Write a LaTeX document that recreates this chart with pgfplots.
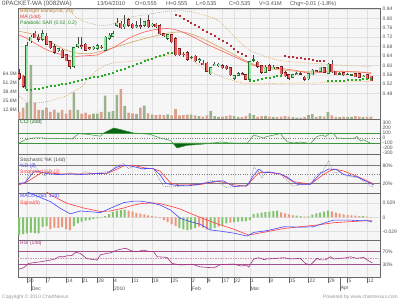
\documentclass[border=0pt]{standalone}
\usepackage{pgfplots}
\pgfplotsset{compat=1.18}
\usepackage{pgfplotstable}
\usepackage{fontspec}
\setmainfont{Liberation Sans}
\definecolor{panelbg}{RGB}{246,246,246}
\definecolor{gridc}{RGB}{224,224,224}
\definecolor{bordc}{RGB}{105,105,105}
\definecolor{upfill}{RGB}{150,232,160}
\definecolor{upedge}{RGB}{40,110,50}
\definecolor{dnfill}{RGB}{236,96,96}
\definecolor{dnedge}{RGB}{120,30,30}
\definecolor{wickc}{RGB}{70,70,70}
\definecolor{volup}{RGB}{155,178,140}
\definecolor{voldn}{RGB}{218,162,142}
\definecolor{bbc}{RGB}{214,164,96}
\definecolor{mac}{RGB}{255,95,95}
\definecolor{sarg}{RGB}{40,170,40}
\definecolor{sarr}{RGB}{185,45,55}
\definecolor{ccic}{RGB}{60,150,60}
\definecolor{ccifill}{RGB}{10,100,20}
\definecolor{stk}{RGB}{120,120,120}
\definecolor{blu}{RGB}{70,70,255}
\definecolor{rd}{RGB}{255,60,60}
\definecolor{hup}{RGB}{130,195,110}
\definecolor{hdn}{RGB}{236,150,125}
\definecolor{rsic}{RGB}{165,50,130}
\definecolor{rsil}{RGB}{160,80,140}
\definecolor{rsid}{RGB}{205,150,190}
\definecolor{txtg}{RGB}{80,80,80}
\definecolor{cpy}{RGB}{150,150,150}
\definecolor{legbb}{RGB}{190,130,50}
\definecolor{legma}{RGB}{230,50,50}
\definecolor{legsar}{RGB}{40,140,40}
\newcommand{\fs}{\fontsize{5}{6}\selectfont}
\newcommand{\ft}{\fontsize{5.6}{6.6}\selectfont}

\pgfplotstableread{
i o h l c v
0 0.565 0.585 0.540 0.545 10
1 0.555 0.560 0.505 0.510 16
2 0.500 0.700 0.490 0.685 23
3 0.705 0.730 0.695 0.720 76
4 0.738 0.745 0.715 0.718 23
5 0.720 0.735 0.700 0.710 12.7
6 0.710 0.750 0.705 0.735 12.3
7 0.725 0.740 0.685 0.690 16
8 0.700 0.705 0.670 0.675 10
9 0.680 0.690 0.650 0.655 13
10 0.662 0.675 0.655 0.670 9
11 0.665 0.670 0.630 0.635 12.7
12 0.645 0.650 0.618 0.620 7.5
13 0.620 0.625 0.585 0.595 12.7
14 0.595 0.680 0.590 0.675 37.5
15 0.680 0.720 0.675 0.690 12.7
16 0.685 0.720 0.670 0.680 7.5
17 0.690 0.695 0.660 0.665 9
18 0.675 0.680 0.665 0.670 6
19 0.670 0.682 0.665 0.678 7.5
20 0.672 0.690 0.665 0.683 7.5
21 0.678 0.685 0.670 0.675 10
22 0.665 0.725 0.660 0.720 33
23 0.715 0.740 0.710 0.728 10
24 0.725 0.745 0.720 0.735 11
25 0.770 0.800 0.765 0.780 34
26 0.780 0.790 0.755 0.760 42
27 0.765 0.815 0.755 0.775 18
28 0.795 0.800 0.765 0.770 9
29 0.775 0.780 0.755 0.760 8
30 0.765 0.790 0.760 0.770 7
31 0.770 0.800 0.755 0.768 16
32 0.770 0.790 0.765 0.785 18.7
33 0.790 0.815 0.760 0.765 8
34 0.770 0.780 0.765 0.775 6
35 0.775 0.780 0.760 0.765 5.5
36 0.770 0.775 0.730 0.735 6
37 0.735 0.740 0.722 0.728 5.5
38 0.715 0.735 0.710 0.730 6.5
39 0.730 0.735 0.695 0.700 5
40 0.715 0.720 0.640 0.645 14
41 0.670 0.675 0.640 0.645 5
42 0.648 0.655 0.635 0.645 5.5
43 0.655 0.660 0.620 0.625 6
44 0.635 0.640 0.628 0.635 6
45 0.640 0.645 0.615 0.620 5
46 0.620 0.630 0.612 0.625 4
47 0.610 0.625 0.600 0.605 3.5
48 0.610 0.615 0.570 0.575 5
49 0.565 0.595 0.560 0.590 11
50 0.600 0.615 0.598 0.605 4
51 0.600 0.610 0.595 0.605 3
52 0.600 0.605 0.585 0.590 3.5
53 0.597 0.600 0.580 0.585 4
54 0.590 0.595 0.555 0.560 5
55 0.545 0.560 0.540 0.557 4
56 0.558 0.570 0.555 0.565 3
57 0.565 0.570 0.558 0.563 2.5
58 0.560 0.565 0.537 0.540 4
59 0.540 0.620 0.535 0.617 8
60 0.625 0.645 0.615 0.625 5.6
61 0.613 0.618 0.590 0.595 3
62 0.600 0.602 0.565 0.570 4
63 0.570 0.600 0.567 0.592 4.5
64 0.600 0.605 0.575 0.580 3.5
65 0.590 0.600 0.585 0.592 3
66 0.590 0.595 0.585 0.588 2.5
67 0.595 0.598 0.560 0.565 3.5
68 0.570 0.575 0.550 0.555 4
69 0.560 0.565 0.540 0.545 3.5
70 0.550 0.565 0.545 0.560 2.5
71 0.563 0.570 0.560 0.566 2
72 0.566 0.570 0.560 0.565 2
73 0.550 0.555 0.535 0.540 3
74 0.543 0.568 0.540 0.565 5.5
75 0.560 0.585 0.558 0.580 7
76 0.578 0.580 0.570 0.575 3
77 0.575 0.595 0.572 0.592 4
78 0.590 0.592 0.568 0.570 3.5
79 0.567 0.610 0.565 0.605 9.8
80 0.605 0.625 0.568 0.572 5
81 0.575 0.578 0.558 0.560 3
82 0.565 0.570 0.560 0.565 2.5
83 0.570 0.573 0.556 0.560 3.5
84 0.562 0.566 0.558 0.563 2.5
85 0.560 0.565 0.555 0.560 3
86 0.565 0.568 0.550 0.552 4
87 0.565 0.567 0.548 0.550 3.5
88 0.553 0.558 0.550 0.555 2.5
89 0.560 0.562 0.543 0.545 3
90 0.555 0.555 0.535 0.535 3.41
}\candles

\pgfplotstableread{
i h g
0 -36 1
1 -34 1
2 -32.5 1
3 -31 1
4 -32 1
5 -32.5 1
6 -20 1
7 -17.6 1
8 -24 0
9 -21 0
10 -22 0
11 -20 0
12 -24 0
13 -26 0
14 -17.6 1
15 -12 1
16 -8.8 1
17 -6.8 1
18 -5.4 1
19 -3.4 1
20 -2 1
21 -0.7 1
22 2.7 1
23 6.8 1
24 10.8 1
25 13.6 1
26 15 1
27 15.6 1
28 13.6 0
29 11.5 0
30 8.8 0
31 7.5 0
32 6.1 0
33 4 0
34 2.7 0
35 1.4 0
36 -1.4 0
37 -5.4 0
38 -9.5 0
39 -13.6 0
40 -17.6 0
41 -22 1
42 -24.4 1
43 -25.8 1
44 -24.4 1
45 -22 1
46 -19 0
47 -21 0
48 -24.4 0
49 -24.4 1
50 -21.7 1
51 -19 0
52 -15.6 1
53 -12.2 1
54 -10.8 0
55 -9.5 1
56 -8.8 1
57 -8.1 1
58 -7.5 1
59 -5.4 1
60 6.8 1
61 8.1 1
62 9.5 1
63 10.8 1
64 11.5 1
65 12.9 1
66 13.6 1
67 10.2 0
68 8.1 0
69 6.1 0
70 4 0
71 3.4 1
72 2.7 1
73 1.4 0
74 2 1
75 5.4 1
76 8.1 1
77 9.5 1
78 11.5 1
79 13.6 1
80 12.2 0
81 9.5 0
82 7.5 0
83 6.1 0
84 4.7 0
85 4 0
86 3.4 0
87 2.7 0
88 2.7 1
89 1.4 0
90 0.7 0
}\macdhist

\pgfplotsset{
  panel/.style={
    scale only axis, width=362bp, anchor=south west,
    xmin=-0.3, xmax=92.3,
    axis line style={bordc, line width=0.6bp},
    xtick={2,7,12,16,20,24,29,34,39,44,48,52,55,59,64,69,74,79,84,89},
    xticklabels={},
    x tick style={draw=none},
    xmajorgrids, major x grid style={gridc, line width=0.4bp},
    ytick pos=right, yticklabel pos=right,
    y tick style={draw=none},
    yticklabel style={font=\fs, text=txtg, inner sep=1bp, xshift=1.5bp},
    axis background/.style={fill=panelbg},
    clip=true,
  },
  ovl/.style={
    scale only axis, width=362bp, anchor=south west,
    xmin=-0.3, xmax=92.3,
    axis line style={draw=none},
    xtick=\empty, ytick=\empty,
    clip=true,
  },
  body/.style={draw=none, mark=none, forget plot, restrict y to domain=0:2,
    error bars/.cd, y dir=both, y explicit, error mark=none},
}

\begin{document}
\begin{tikzpicture}
\useasboundingbox (0,0) rectangle (400bp,300bp);

% ---------------- main panel background
\begin{axis}[panel, at={(18bp,181bp)}, height=111bp, ymin=0.372, ymax=0.8443,
  ytick={0.48,0.52,0.56,0.60,0.64,0.68,0.72,0.76,0.80,0.84},
  yticklabels={0.48,0.52,0.56,0.60,0.64,0.68,0.72,0.76,0.80,0.84},
  ymajorgrids, major y grid style={gridc, line width=0.4bp}]
\end{axis}

% ---------------- volume
\begin{axis}[ovl, at={(18bp,181bp)}, height=111bp, ymin=0, ymax=156,
  ytick={12.8,25.6,38.4,51.2,64.0},
  yticklabels={12.8M,25.6M,38.4M,51.2M,64.0M},
  ytick pos=left, yticklabel pos=left, y tick style={draw=none},
  yticklabel style={font=\fs, text=txtg, inner sep=1bp},
  ybar, bar width=2.6bp, bar shift=0pt]
\addplot[fill=volup, draw=none, restrict y to domain=0:1000]
  table[x=i, y expr={\thisrow{c}>=\thisrow{o} ? \thisrow{v} : -5}] {\candles};
\addplot[fill=voldn, draw=none, restrict y to domain=0:1000]
  table[x=i, y expr={\thisrow{c}<\thisrow{o} ? \thisrow{v} : -5}] {\candles};
\end{axis}

% ---------------- price overlays
\begin{axis}[ovl, at={(18bp,181bp)}, height=111bp, ymin=0.372, ymax=0.8443]
% Bollinger upper
\addplot[bbc, line width=0.6bp, dash pattern=on 0.8bp off 1.2bp, smooth, tension=0.4] coordinates {
(0,1.0)(4,1.0)(8,0.93)(11,0.87)(13,0.83)(15,0.80)(17,0.785)(20,0.772)(23,0.772)(25,0.785)(27,0.80)(30,0.81)(34,0.82)(38,0.83)(42,0.832)(45,0.825)(48,0.81)(50,0.80)(52,0.775)(54,0.74)(57,0.69)(59,0.665)(62,0.644)(66,0.623)(70,0.615)(75,0.609)(83,0.60)(90,0.595)};
% Bollinger lower
\addplot[bbc, line width=0.6bp, dash pattern=on 0.8bp off 1.2bp, smooth, tension=0.4] coordinates {
(0,0.47)(2,0.445)(4,0.44)(7,0.445)(10,0.46)(12,0.47)(14,0.49)(16,0.51)(18,0.55)(20,0.58)(22,0.60)(24,0.61)(27,0.615)(30,0.62)(34,0.63)(38,0.645)(40,0.655)(42,0.65)(44,0.625)(46,0.60)(48,0.58)(50,0.565)(53,0.545)(57,0.525)(60,0.522)(65,0.523)(70,0.525)(75,0.525)(80,0.528)(85,0.53)(90,0.532)};
% Bollinger middle
\addplot[bbc, line width=0.6bp, smooth, tension=0.4] coordinates {
(0,0.745)(3,0.735)(6,0.715)(9,0.69)(12,0.665)(15,0.652)(18,0.65)(21,0.66)(24,0.675)(27,0.69)(30,0.705)(33,0.718)(36,0.73)(39,0.74)(42,0.742)(45,0.728)(48,0.705)(51,0.68)(54,0.655)(57,0.628)(60,0.605)(63,0.59)(66,0.582)(70,0.576)(74,0.573)(78,0.572)(82,0.573)(86,0.572)(90,0.57)};
% MA 14
\addplot[mac, line width=0.6bp, smooth, tension=0.4] coordinates {
(0,0.73)(2,0.715)(4,0.695)(6,0.675)(8,0.66)(10,0.65)(12,0.642)(14,0.638)(16,0.64)(18,0.642)(20,0.645)(22,0.66)(24,0.675)(26,0.695)(28,0.715)(30,0.73)(32,0.742)(34,0.75)(36,0.755)(38,0.757)(40,0.752)(42,0.74)(44,0.725)(46,0.708)(48,0.69)(50,0.675)(52,0.66)(54,0.645)(56,0.63)(58,0.615)(60,0.60)(62,0.595)(65,0.59)(68,0.585)(71,0.578)(73,0.57)(75,0.567)(77,0.57)(79,0.574)(81,0.576)(83,0.575)(85,0.573)(87,0.572)(89,0.568)(90,0.565)};
% Parabolic SAR
\addplot[only marks, mark=square*, mark size=0.5bp, color=sarg] coordinates {
(2,0.495)(3,0.497)(4,0.50)(5,0.503)(6,0.506)(7,0.509)(8,0.512)(9,0.515)(10,0.518)(11,0.521)(12,0.524)(13,0.527)(14,0.530)(15,0.534)(16,0.538)(17,0.542)(18,0.546)(19,0.55)(20,0.554)(21,0.558)(22,0.562)(23,0.566)(24,0.571)(25,0.576)(26,0.582)(27,0.588)(28,0.594)(29,0.600)(30,0.606)(31,0.612)(32,0.618)(33,0.624)(34,0.630)(35,0.636)(36,0.642)(37,0.647)(38,0.652)(39,0.656)
(59,0.535)(60,0.537)(61,0.540)(62,0.543)(63,0.546)(64,0.549)(65,0.552)(66,0.555)(67,0.558)
(79,0.533)(80,0.534)(81,0.535)(82,0.536)(83,0.537)(84,0.538)(85,0.539)(86,0.540)(87,0.541)(88,0.542)(89,0.543)(90,0.544)};
\addplot[only marks, mark=square*, mark size=0.5bp, color=sarr] coordinates {
(40,0.815)(41,0.81)(42,0.80)(43,0.79)(44,0.782)(45,0.773)(46,0.764)(47,0.754)(48,0.745)(49,0.735)(50,0.725)(51,0.715)(52,0.705)(53,0.695)(54,0.683)(55,0.672)(56,0.66)(57,0.65)(58,0.64)
(68,0.640)(69,0.638)(70,0.636)(71,0.634)(72,0.632)(73,0.629)(74,0.627)(75,0.624)(76,0.622)(77,0.620)(78,0.618)};
% wicks
\addplot[body, error bar style={draw=wickc, line width=0.5bp, solid}]
  table[x=i, y expr={(\thisrow{h}+\thisrow{l})/2}, y error expr={(\thisrow{h}-\thisrow{l})/2}] {\candles};
% up bodies
\addplot[body, error bar style={draw=upedge, line width=3bp, solid}]
  table[x=i, y expr={\thisrow{c}>=\thisrow{o} ? (\thisrow{o}+\thisrow{c})/2 : -1}, y error expr={abs(\thisrow{c}-\thisrow{o})/2+0.002}] {\candles};
\addplot[body, error bar style={draw=upfill, line width=2bp, solid}]
  table[x=i, y expr={\thisrow{c}>=\thisrow{o} ? (\thisrow{o}+\thisrow{c})/2 : -1}, y error expr={max(abs(\thisrow{c}-\thisrow{o})/2-0.0005,0)}] {\candles};
% down bodies
\addplot[body, error bar style={draw=dnedge, line width=3bp, solid}]
  table[x=i, y expr={\thisrow{c}<\thisrow{o} ? (\thisrow{o}+\thisrow{c})/2 : -1}, y error expr={abs(\thisrow{c}-\thisrow{o})/2+0.002}] {\candles};
\addplot[body, error bar style={draw=dnfill, line width=2bp, solid}]
  table[x=i, y expr={\thisrow{c}<\thisrow{o} ? (\thisrow{o}+\thisrow{c})/2 : -1}, y error expr={max(abs(\thisrow{c}-\thisrow{o})/2-0.0005,0)}] {\candles};
\end{axis}

% ---------------- CCI
\begin{axis}[panel, at={(18bp,146bp)}, height=35bp, ymin=-320, ymax=380,
  ytick={-300,-200,-100,0,100,200,300},
  yticklabels={-300,-200,-100,0,100,200,300}]
\addplot[fill=ccifill, draw=none] coordinates {(21.6,100)(24.2,200)(25.9,170)(27.5,135)(29.3,100)};
\addplot[fill=ccifill, draw=none] coordinates {(39.3,-100)(40.4,-200)(42.9,-147)(46.3,-127)(49.7,-100)};
\addplot[fill=ccifill, draw=none] coordinates {(54,-100)(54.9,-107)(58.3,-110)(58.4,-100)};
\addplot[ccic, line width=0.6bp] coordinates {(-1,100)(93,100)};
\addplot[ccic, line width=0.6bp] coordinates {(-1,-100)(93,-100)};
\addplot[gray, line width=0.4bp, dotted] coordinates {(-1,0)(93,0)};
\addplot[ccic, line width=0.5bp] coordinates {
(0,-100)(1.6,-34)(3.7,0)(6.2,0)(7.1,-10)(12.2,-10)(13.5,-20)(15.2,86)(17.4,74)(20.8,36)(21.6,100)(24.2,200)(25.9,170)(29.3,100)(31,90)(33.5,73)(36.1,0)(38.7,-50)(40.4,-200)(42.9,-147)(46.3,-127)(49.7,-100)(51.5,-80)(54.9,-107)(58.3,-110)(60,60)(62.5,0)(63.4,30)(66,73)(66.8,90)(68.5,-73)(70.2,-100)(71.9,-80)(74.5,-110)(76.2,30)(77.5,60)(78.3,30)(79.6,100)(80.4,90)(81.3,0)(83.9,-10)(85.6,-10)(86.4,30)(87.3,-60)(88.1,-35)(89.8,-100)};
\end{axis}

% ---------------- Stochastic
\begin{axis}[panel, at={(18bp,107bp)}, height=39bp, ymin=-13, ymax=120,
  ytick={20,80}, yticklabels={20\%,80\%}]
\addplot[stk, line width=0.6bp] coordinates {(-1,80)(93,80)};
\addplot[stk, line width=0.6bp] coordinates {(-1,20)(93,20)};
\addplot[gray, line width=0.4bp, dotted] coordinates {(-1,50)(93,50)};
\addplot[stk, line width=0.4bp, dash pattern=on 1bp off 1bp] coordinates {
(0,20)(1.5,20)(3.7,89)(5,60)(6.5,45)(8,62)(9.5,52)(11,48)(13,56)(15,48)(17,60)(19,52)(21,58)(23,60)(25,80)(26.7,88)(28,70)(30,82)(31.5,65)(33,72)(34.4,70)(36,30)(37,10)(39,8)(41,10)(43,14)(45,12)(47,20)(49,30)(51,25)(53,6)(55,8)(57,14)(59,15)(60,75)(61.3,60)(62,38)(63.5,62)(65,55)(67,48)(68.5,30)(70,10)(72,15)(74.5,18)(76,48)(77.5,60)(79.2,98)(80.3,55)(82,60)(83.5,45)(85,42)(87,38)(88.5,22)(90,10)(90.7,8)};
\addplot[rd, line width=0.6bp] coordinates {
(0,15)(2,25)(5.8,57)(8,55)(10.5,52)(16.5,52)(22.5,54)(24,62)(26.7,79)(29,82)(32,73)(34.4,69)(36,62)(38.7,22)(41,14)(46.3,16)(51,27)(54.9,15)(58,10)(61.3,56)(63,58)(66.8,52)(70,26)(74.5,17)(78,52)(80.5,69)(83,62)(86.4,44)(90.7,18)};
\addplot[blu, line width=0.6bp] coordinates {
(0,20)(1.5,22)(3.7,59)(5,60)(7,53)(10,50)(13,52)(16,50)(19,53)(22.5,55)(25,75)(26.7,82)(29,78)(31,71)(34.4,70)(36,50)(37.5,20)(40,13)(43,11)(46.3,18)(50.6,28)(52.3,28)(54.9,9)(58.3,12)(60,48)(61.3,68)(62.6,56)(64.3,58)(66.8,52)(68.5,42)(71.1,17)(74.5,17)(77.1,54)(79.2,69)(81.3,66)(83,50)(86.4,42)(89.9,20)(90.7,14)};
\end{axis}

% ---------------- MACD (values in thousandths)
\begin{axis}[panel, at={(18bp,60bp)}, height=47bp, ymin=-46, ymax=49.6,
  ytick={-29,0,29}, yticklabels={-0.029,0,0.029},
  ymajorgrids, major y grid style={gridc, line width=0.4bp},
  ybar, bar width=2bp, bar shift=0pt]
\addplot[fill=hup, draw=none, restrict y to domain=-500:500]
  table[x=i, y expr={\thisrow{g}==1 ? \thisrow{h} : -999}] {\macdhist};
\addplot[fill=hdn, draw=none, restrict y to domain=-500:500]
  table[x=i, y expr={\thisrow{g}==0 ? \thisrow{h} : -999}] {\macdhist};
\addplot[sharp plot, rd, line width=0.6bp] coordinates {
(0,92)(3,80)(6,58)(8,45.6)(12.2,28.7)(16.5,19)(20.8,12)(23.3,13)(26.7,19)(29.3,25)(31,28)(34.4,29.5)(36.1,28)(39.5,21)(41.2,17)(43.8,8)(46.3,0)(50.6,-13)(54.9,-24)(58.7,-36)(63.4,-29)(67.7,-22.6)(71.9,-19)(76.2,-15.5)(80.5,-10.8)(84.7,-8.7)(89,-6.7)(90.3,-6.7)};
\addplot[sharp plot, blu, line width=0.6bp] coordinates {
(0,56)(2,52)(4.5,43.5)(8,32)(10.5,18.5)(13.1,7)(15.6,13)(19,11)(20.8,9.6)(23.3,18.5)(26.7,30)(29.3,33)(31,33)(33.5,30)(36.1,25)(38.7,15)(41.2,-2)(43.8,-8.7)(46.3,-14)(48.9,-25.6)(51.5,-28)(54.9,-32)(58.3,-38)(60,-30.5)(63.4,-27)(67.7,-19)(71.9,-20)(75.3,-19)(78.8,-9.4)(80.5,-5.5)(84.7,-5.5)(87.3,-6.7)(89,-6.7)(90.3,-9.4)};
\end{axis}

% ---------------- RSI
\begin{axis}[panel, at={(18bp,23bp)}, height=37bp, ymin=-10, ymax=107,
  ytick={30,70}, yticklabels={30\%,70\%}]
\addplot[rsil, line width=0.7bp] coordinates {(-1,70)(93,70)};
\addplot[rsil, line width=0.7bp] coordinates {(-1,30)(93,30)};
\addplot[rsid, line width=0.5bp, dash pattern=on 1.5bp off 1bp] coordinates {(-1,50)(93,50)};
\addplot[rsic, line width=0.6bp] coordinates {
(0,15)(1.1,19)(2.4,33)(5.4,38)(8,43.6)(9.2,47)(10.1,54)(11.4,54)(12.2,57)(13.5,58)(14.4,68)(15.6,65)(17.3,48)(19.9,43.6)(20.8,60)(22.5,65)(23.3,66)(25,75)(27.2,81)(28.9,72)(30.1,70)(31.8,75)(33.1,71)(34.4,70)(35.3,54)(37.8,52)(39.1,33)(41.2,28)(42.9,29)(44.6,29)(46.3,22)(49.8,19)(51.5,29)(54.9,31)(56.6,25)(58.3,26)(58.7,21)(60,47)(61.3,51)(62.6,45)(63.4,47)(66,49)(67.7,51)(69.4,47)(71.9,49)(73.2,33)(74.5,28)(76.2,49)(77.1,44)(78.3,44)(79.6,54)(80.5,47)(82.2,49)(83.9,51)(84.7,54)(86.4,49)(88.1,52)(89,44)(90.3,35)};
\end{axis}

% ---------------- date ticks
\begin{axis}[ovl, at={(18bp,23bp)}, height=37bp, ymin=-10, ymax=107, clip=false,
  xtick={2,7,12,16,20,24,29,34,39,44,48,52,55,59,64,69,74,79,84,89},
  xticklabels={}, xtick pos=bottom, tick align=outside, major tick length=6bp,
  x tick style={draw=bordc, line width=0.4bp},
  extra x ticks={3,24,44,59,82}, extra x tick labels={},
  extra x tick style={major tick length=14bp}]
\end{axis}

% ---------------- texts
\foreach \x/\t in {27.8/30,47.3/7,66.9/14,82.5/21,98.2/28,113.8/4,133.3/11,152.9/18,172.4/25,192.0/2,207.6/9,223.3/17,235.0/22,250.6/1,270.2/8,289.7/15,309.3/22,328.8/29,348.3/5,367.9/12}
  \node[anchor=west, inner sep=0pt, font=\fs, text=txtg] at (\x bp,19bp) {\t};
\foreach \x/\t in {31.7/Dec,113.8/2010,192.0/Feb,250.6/Mar,340.6/Apr}
  \node[anchor=west, inner sep=0pt, font=\fs, text=txtg] at (\x bp,11.5bp) {\t};

\node[anchor=west, inner sep=0pt, font=\fontsize{6.3}{7}\selectfont, text=txtg] at (2bp,296bp) {0PACKET-WA (0082WA)};
\node[anchor=west, inner sep=0pt, font=\ft, text=txtg] at (97bp,296bp) {13/04/2010};
\node[anchor=west, inner sep=0pt, font=\ft, text=txtg] at (135bp,296bp) {O=0.555};
\node[anchor=west, inner sep=0pt, font=\ft, text=txtg] at (166bp,296bp) {H=0.555};
\node[anchor=west, inner sep=0pt, font=\ft, text=txtg] at (196bp,296bp) {L=0.535};
\node[anchor=west, inner sep=0pt, font=\ft, text=txtg] at (229bp,296bp) {C=0.535};
\node[anchor=west, inner sep=0pt, font=\ft, text=txtg] at (259bp,296bp) {V=3.41M};
\node[anchor=west, inner sep=0pt, font=\ft, text=txtg] at (290bp,296bp) {Chg=-0.01 (-1.8\%)};

\node[anchor=west, inner sep=0pt, font=\fs, text=legbb] at (20bp,288.3bp) {Bollinger Band(20d, 2.0)};
\node[anchor=west, inner sep=0pt, font=\fs, text=legma] at (20bp,282.7bp) {MA (14d)};
\node[anchor=west, inner sep=0pt, font=\fs, text=legsar] at (20bp,276.7bp) {Parabolic SAR (0.02, 0.2)};
\node[anchor=west, inner sep=0pt, font=\fs, text=ccifill] at (20bp,177.5bp) {CCI (20d)};
\node[anchor=west, inner sep=0pt, font=\fs, text=txtg] at (20bp,139.3bp) {Stochastic \%K (14d)};
\node[anchor=west, inner sep=0pt, font=\fs, text=blu] at (20bp,133.3bp) {\%D (3)};
\node[anchor=west, inner sep=0pt, font=\fs, text=rd] at (20bp,127.3bp) {Smoothed \%D (3)};
\node[anchor=west, inner sep=0pt, font=\fs, text=blu] at (20bp,103.3bp) {MACD (26d, 12d)};
\node[anchor=west, inner sep=0pt, font=\fs, text=rd] at (20bp,96.7bp) {Signal(9)};
\node[anchor=west, inner sep=0pt, font=\fs, text=rsic] at (20bp,56.8bp) {RSI (14d)};
\node[anchor=west, inner sep=0pt, font=\fs, text=cpy] at (2bp,3bp) {Copyright \textcopyright{} 2010 ChartNexus};
\node[anchor=east, inner sep=0pt, font=\fs, text=cpy] at (398bp,3bp) {Powered by www.chartnexus.com};
\end{tikzpicture}
\end{document}
